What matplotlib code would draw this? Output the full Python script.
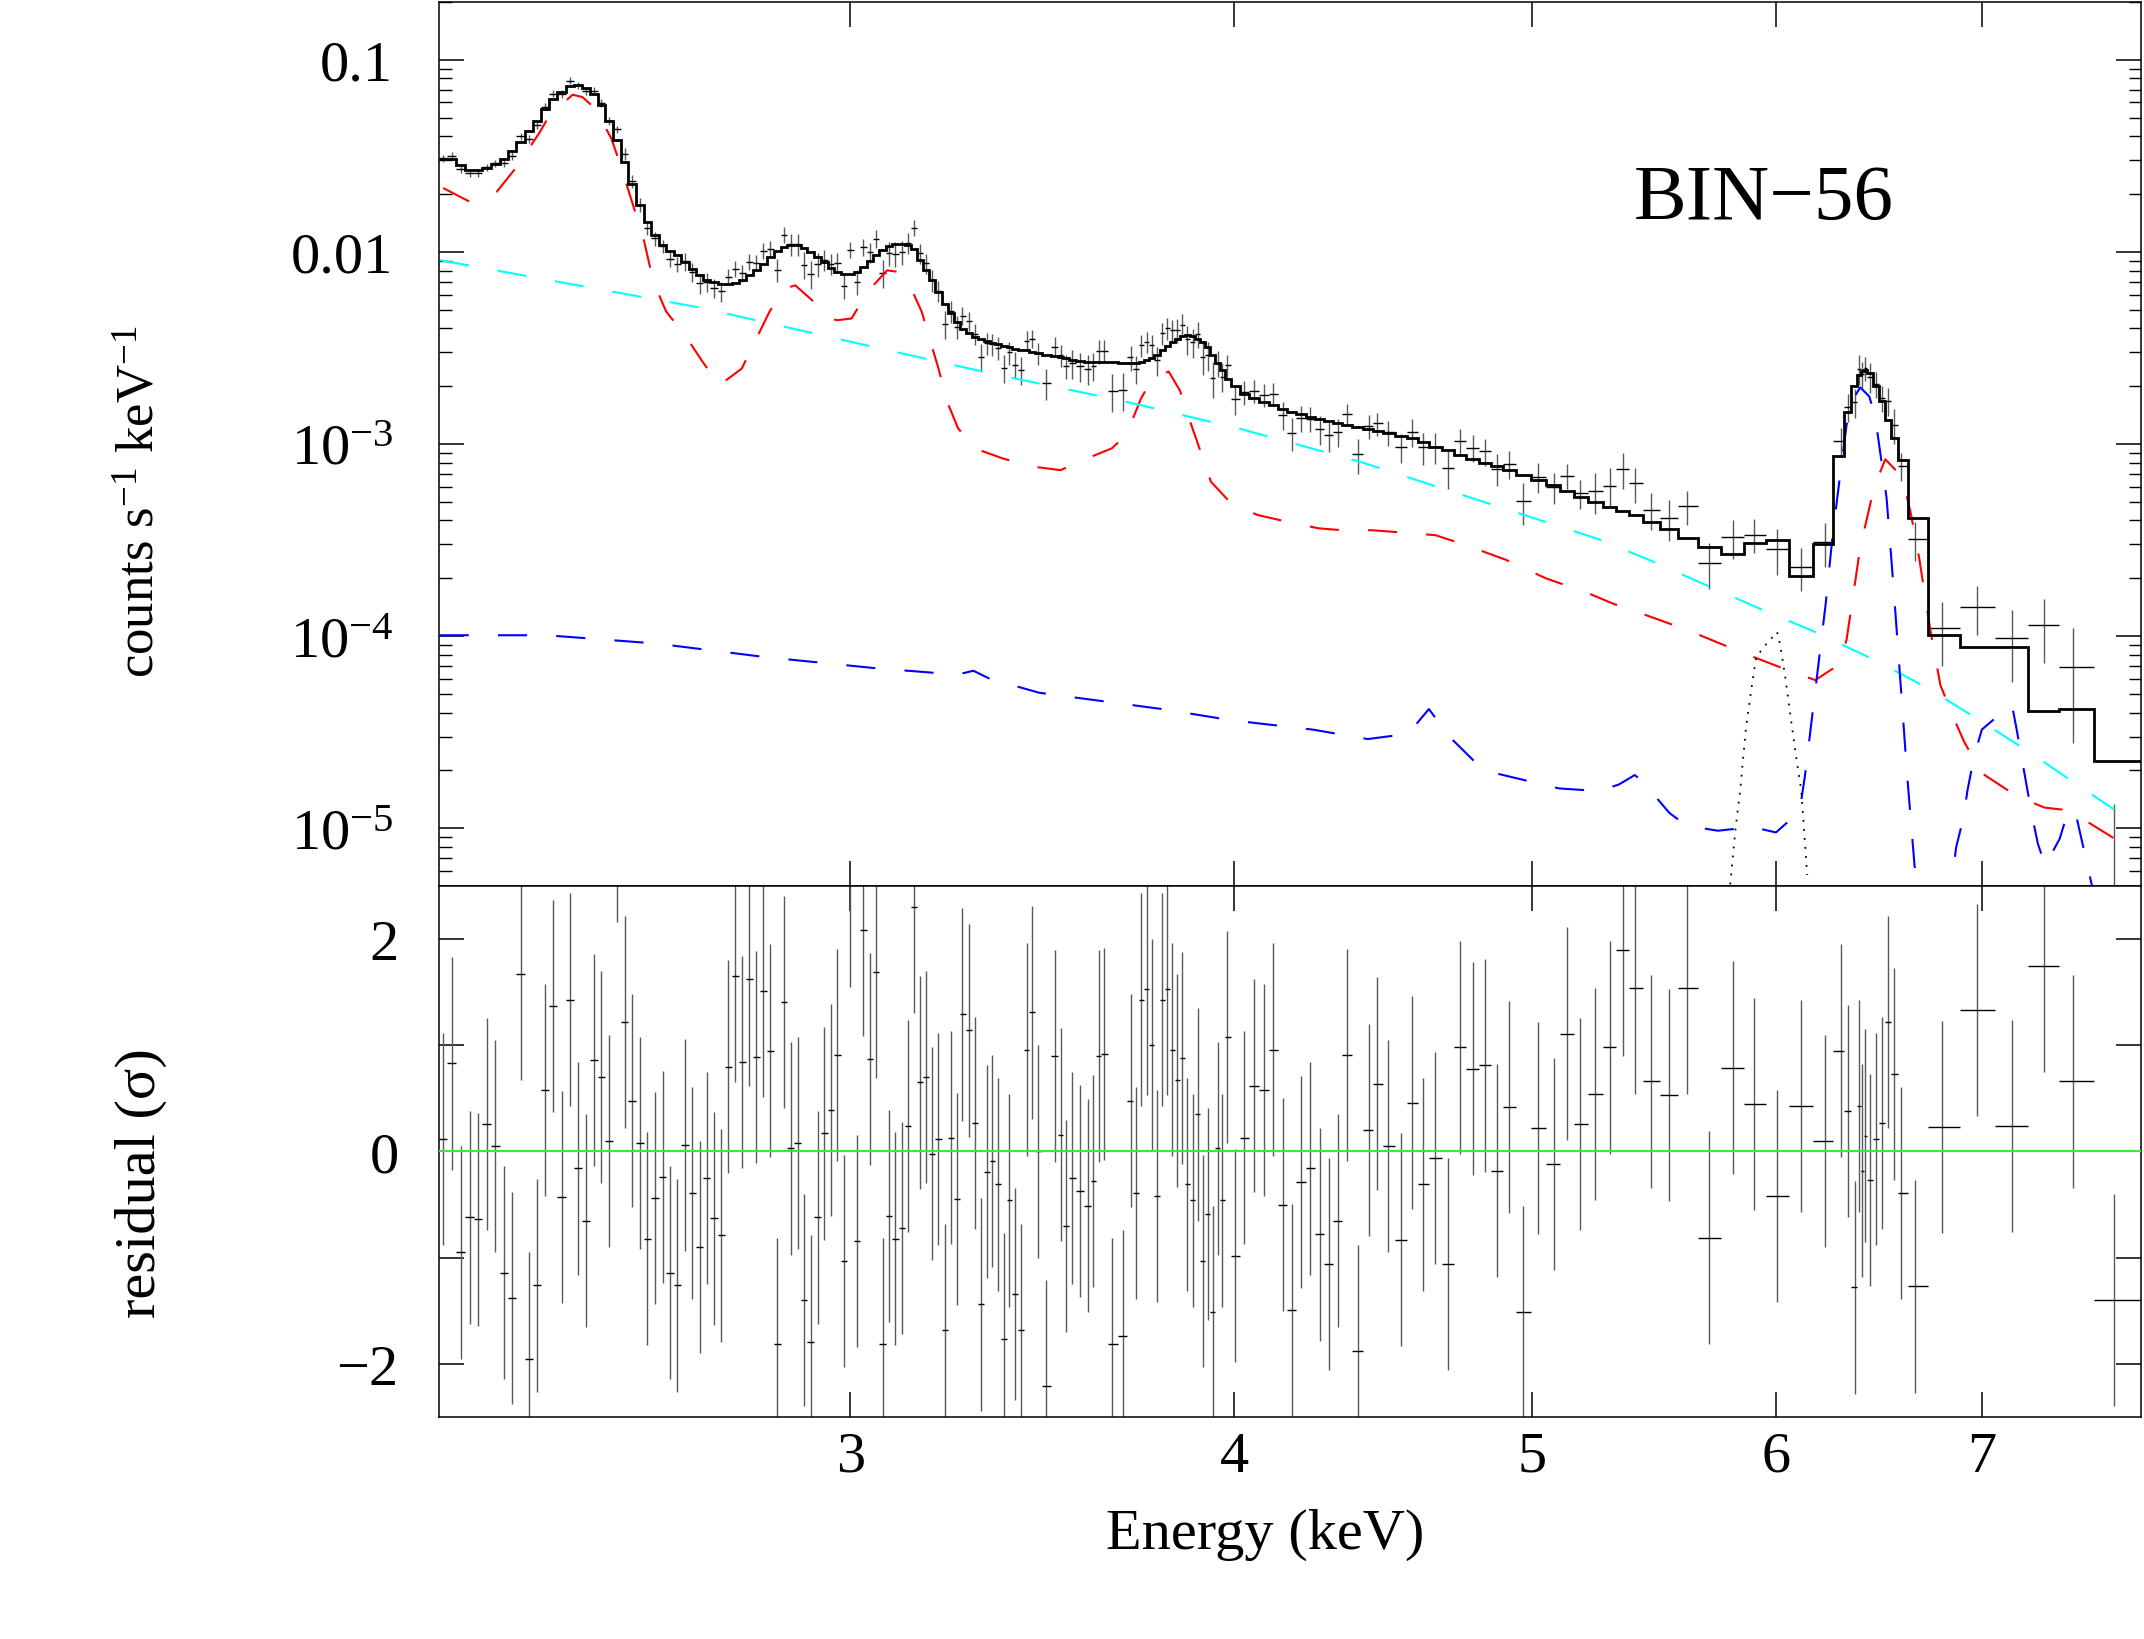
import numpy as np
import matplotlib
matplotlib.use('Agg')
import matplotlib.pyplot as plt
from matplotlib.ticker import FixedLocator, NullLocator, LogLocator, NullFormatter

plt.rcParams['font.family'] = ['Liberation Serif', 'DejaVu Serif']
plt.rcParams['mathtext.fontset'] = 'custom'
plt.rcParams['mathtext.rm'] = 'Liberation Serif'
plt.rcParams['mathtext.it'] = 'Liberation Serif:italic'

# bin centres (keV)
energy = np.array([
    2.212, 2.226, 2.242, 2.256, 2.271, 2.285, 2.300, 2.315, 2.329, 2.344,
    2.359, 2.373, 2.387, 2.402, 2.417, 2.432, 2.446, 2.461, 2.476, 2.490,
    2.504, 2.519, 2.534, 2.548, 2.563, 2.577, 2.592, 2.607, 2.621, 2.636,
    2.651, 2.665, 2.680, 2.695, 2.709, 2.724, 2.738, 2.753, 2.767, 2.781,
    2.796, 2.811, 2.826, 2.840, 2.855, 2.869, 2.884, 2.898, 2.913, 2.928,
    2.942, 2.957, 2.971, 2.986, 3.000, 3.015, 3.029, 3.045, 3.059, 3.074,
    3.088, 3.103, 3.118, 3.132, 3.147, 3.161, 3.176, 3.190, 3.205, 3.220,
    3.234, 3.249, 3.263, 3.278, 3.293, 3.308, 3.323, 3.337, 3.352, 3.366,
    3.380, 3.395, 3.409, 3.424, 3.438, 3.453, 3.474, 3.497, 3.512, 3.526,
    3.541, 3.563, 3.584, 3.599, 3.613, 3.628, 3.650, 3.680, 3.701, 3.716,
    3.730, 3.746, 3.760, 3.775, 3.789, 3.803, 3.818, 3.832, 3.847, 3.861,
    3.877, 3.891, 3.906, 3.921, 3.935, 3.950, 3.964, 3.979, 4.001, 4.030,
    4.059, 4.089, 4.118, 4.147, 4.176, 4.204, 4.234, 4.264, 4.292, 4.322,
    4.352, 4.387, 4.424, 4.452, 4.488, 4.532, 4.570, 4.606, 4.649, 4.694,
    4.737, 4.781, 4.824, 4.869, 4.912, 4.964, 5.022, 5.080, 5.131, 5.182,
    5.241, 5.299, 5.350, 5.400, 5.465, 5.540, 5.613, 5.707, 5.810, 5.904,
    6.006, 6.115, 6.226, 6.298, 6.334, 6.364, 6.386, 6.399, 6.415, 6.436,
    6.467, 6.496, 6.525, 6.553, 6.591, 6.657, 6.795, 6.977, 7.159, 7.334,
    7.495, 7.728])
last_edge = 7.95

# folded model per bin (counts s-1 keV-1)
model = np.array([
    0.0306, 0.0306, 0.0282, 0.0266, 0.0266, 0.0273, 0.0288, 0.0306, 0.0337, 0.0373,
    0.0424, 0.0483, 0.0556, 0.0627, 0.0679, 0.0730, 0.0741, 0.0712, 0.0666, 0.0579,
    0.0478, 0.0381, 0.0294, 0.0225, 0.0175, 0.0143, 0.0122, 0.0109, 0.0101, 0.00961,
    0.00887, 0.00819, 0.00762, 0.00718, 0.00698, 0.00684, 0.00684, 0.00692, 0.00712, 0.00756,
    0.00802, 0.00869, 0.00942, 0.01008, 0.01062, 0.01091, 0.01082, 0.01049, 0.0100, 0.00942,
    0.00887, 0.00826, 0.00787, 0.00771, 0.00771, 0.00787, 0.00835, 0.00894, 0.00961, 0.01019,
    0.0107, 0.01096, 0.01105, 0.01082, 0.0103, 0.00905, 0.00802, 0.00712, 0.00619, 0.00538,
    0.00482, 0.00432, 0.00399, 0.00379, 0.00361, 0.00351, 0.00343, 0.00336, 0.0033, 0.00324,
    0.00319, 0.00314, 0.0031, 0.00307, 0.00302, 0.00298, 0.00292, 0.00288, 0.00283, 0.00279,
    0.00274, 0.0027, 0.00268, 0.00267, 0.00266, 0.00266, 0.00266, 0.00265, 0.00263, 0.00263,
    0.00266, 0.00273, 0.00281, 0.00292, 0.00307, 0.00322, 0.00338, 0.00354, 0.00366, 0.00369,
    0.00366, 0.00354, 0.0034, 0.0032, 0.0029, 0.00263, 0.00242, 0.00219, 0.00201, 0.00183,
    0.00173, 0.00166, 0.0016, 0.00153, 0.00147, 0.00143, 0.00139, 0.00135, 0.00132, 0.00128,
    0.00126, 0.00123, 0.0012, 0.00117, 0.00114, 0.0011, 0.00107, 0.00102, 0.00097, 0.00093,
    0.00088, 0.00084, 0.0008, 0.00077, 0.00073, 0.00069, 0.00065, 0.00061, 0.00057, 0.00053,
    0.000496, 0.000469, 0.000446, 0.000426, 0.000391, 0.00036, 0.000325, 0.000292, 0.000267, 0.000307,
    0.000315, 0.000205, 0.0003, 0.000871, 0.00146, 0.00201, 0.00228, 0.00239, 0.00243, 0.00234,
    0.00201, 0.00167, 0.00133, 0.00107, 0.000821, 0.000414, 0.000101, 8.79e-5, 8.79e-5, 4.09e-5,
    4.18e-5, 2.24e-5])

# residuals (sigma)
resid = np.array([
    0.12, 0.83, -0.95, -0.62, -0.64, 0.26, 0.05, -1.14, -1.38, 1.67,
    -1.95, -1.26, 0.58, 1.37, -0.43, 1.43, -0.16, -0.65, 0.86, 0.70,
    0.10, 3.16, 1.22, 0.48, 0.08, -0.82, -0.44, -0.24, -1.14, -1.26,
    0.06, -0.39, -0.90, -0.25, -0.63, -0.79, 0.80, 1.65, 0.84, 1.62,
    0.89, 1.51, 0.95, -1.81, 1.41, 0.03, 0.08, -1.40, -1.79, -0.62,
    0.17, 0.39, 0.91, -1.03, 2.55, -0.84, 2.09, 0.87, 1.69, -1.81,
    -0.61, -0.82, -0.72, 0.24, 2.30, 0.65, 0.70, -0.02, 0.12, -1.68,
    0.13, -0.45, 1.29, 1.14, 0.27, -1.44, -0.19, -0.09, -0.31, -1.77,
    -0.46, -1.34, -1.68, 0.96, 1.31, 0.00, -2.21, 0.90, 0.16, -0.70,
    -0.25, -0.37, -0.51, -0.28, 0.90, 0.92, -1.81, -1.74, 0.48, -0.39,
    1.43, 1.53, 1.00, -0.42, 1.43, 1.53, 0.96, 0.67, 0.88, -0.31,
    -0.46, 0.35, -1.03, -0.59, -1.51, 0.03, -0.46, 1.08, -0.98, 0.13,
    0.62, 0.58, 0.96, -0.50, -1.49, -0.29, -0.16, -0.78, -1.06, -0.65,
    0.91, -1.88, 0.20, 0.64, 0.05, -0.83, 0.46, -0.31, -0.06, -1.06,
    0.98, 0.78, 0.81, -0.18, 0.42, -1.51, 0.22, -0.12, 1.11, 0.26,
    0.54, 0.98, 1.90, 1.54, 0.66, 0.53, 1.54, -0.81, 0.79, 0.45,
    -0.42, 0.43, 0.10, 0.95, 0.38, -1.28, 0.43, -0.18, 0.15, -0.27,
    0.12, 0.27, 1.22, 0.73, -0.39, -1.27, 0.23, 1.33, 0.24, 1.75,
    0.66, -1.40])

# data error relative to model
rel_err = np.array([
    0.045, 0.045, 0.045, 0.045, 0.045, 0.045, 0.045, 0.045, 0.045, 0.045,
    0.045, 0.045, 0.045, 0.045, 0.045, 0.045, 0.045, 0.045, 0.045, 0.045,
    0.045, 0.045, 0.08, 0.08, 0.08, 0.08, 0.08, 0.08, 0.08, 0.08,
    0.11, 0.11, 0.11, 0.11, 0.11, 0.11, 0.11, 0.11, 0.11, 0.11,
    0.11, 0.11, 0.11, 0.11, 0.11, 0.13, 0.13, 0.13, 0.13, 0.13,
    0.13, 0.13, 0.13, 0.13, 0.13, 0.13, 0.13, 0.13, 0.13, 0.13,
    0.13, 0.13, 0.13, 0.13, 0.13, 0.13, 0.13, 0.13, 0.13, 0.13,
    0.13, 0.13, 0.13, 0.13, 0.13, 0.13, 0.13, 0.13, 0.13, 0.13,
    0.13, 0.13, 0.13, 0.13, 0.13, 0.13, 0.13, 0.13, 0.13, 0.13,
    0.16, 0.16, 0.16, 0.16, 0.16, 0.16, 0.16, 0.16, 0.16, 0.16,
    0.16, 0.16, 0.16, 0.16, 0.16, 0.16, 0.16, 0.16, 0.16, 0.16,
    0.16, 0.16, 0.16, 0.16, 0.16, 0.16, 0.16, 0.16, 0.15, 0.15,
    0.15, 0.15, 0.15, 0.15, 0.15, 0.15, 0.15, 0.15, 0.15, 0.15,
    0.15, 0.15, 0.15, 0.15, 0.15, 0.15, 0.18, 0.18, 0.18, 0.18,
    0.18, 0.18, 0.18, 0.18, 0.18, 0.18, 0.18, 0.18, 0.18, 0.18,
    0.27, 0.30, 0.35, 0.30, 0.25, 0.27, 0.30, 0.22, 0.28, 0.22,
    0.24, 0.28, 0.26, 0.20, 0.18, 0.14, 0.19, 0.15, 0.15, 0.17,
    0.16, 0.16, 0.21, 0.24, 0.16, 0.18, 0.40, 0.46, 0.45, 1.03,
    0.98, 1.00])

# model components
red_e = [2.212, 2.257, 2.302, 2.337, 2.378, 2.395, 2.437, 2.455, 2.479, 2.509,
         2.525, 2.544, 2.570, 2.589, 2.614, 2.651, 2.686, 2.720, 2.766, 2.793,
         2.824, 2.856, 2.879, 2.924, 2.944, 2.970, 3.003, 3.039, 3.084, 3.110,
         3.135, 3.165, 3.186, 3.205, 3.226, 3.252, 3.293, 3.363, 3.440, 3.512,
         3.578, 3.649, 3.679, 3.704, 3.730, 3.757, 3.784, 3.808, 3.840, 3.870,
         3.900, 3.930, 3.990, 4.070, 4.160, 4.260, 4.370, 4.430, 4.550, 4.650,
         4.750, 4.900, 5.050, 5.200, 5.314, 5.433, 5.611, 5.851, 6.036, 6.179,
         6.293, 6.326, 6.391, 6.459, 6.512, 6.594, 6.637, 6.680, 6.733, 6.786,
         6.857, 6.910, 7.001, 7.185, 7.336, 7.432, 7.568, 7.727]
red_v = [0.0215, 0.0182, 0.0205, 0.0277, 0.0421, 0.0513, 0.0658, 0.0640, 0.0556, 0.0388,
         0.0288, 0.0197, 0.0117, 0.00698, 0.00488, 0.00369, 0.00268, 0.00202, 0.00247, 0.0034,
         0.00488, 0.00644, 0.0067, 0.00538, 0.00459, 0.00441, 0.0045, 0.00619, 0.00802, 0.00787,
         0.00684, 0.00488, 0.0034, 0.00247, 0.00166, 0.00121, 9.49e-4, 8.41e-4, 7.62e-4, 7.31e-4,
         8.35e-4, 9.49e-4, 1.07e-3, 1.31e-3, 1.73e-3, 2.11e-3, 2.30e-3, 2.38e-3, 1.90e-3, 1.30e-3,
         9.12e-4, 6.37e-4, 4.91e-4, 4.27e-4, 3.94e-4, 3.64e-4, 3.52e-4, 3.56e-4, 3.45e-4, 3.35e-4,
         3.0e-4, 2.5e-4, 2.0e-4, 1.7e-4, 1.47e-4, 1.30e-4, 1.08e-4, 8.2e-5, 6.76e-5, 5.9e-5,
         7.14e-5, 9.6e-5, 2.9e-4, 6.04e-4, 8.32e-4, 6.76e-4, 4.38e-4, 2.52e-4, 1.11e-4, 5.56e-5,
         3.68e-5, 2.79e-5, 1.93e-5, 1.47e-5, 1.28e-5, 1.25e-5, 1.09e-5, 8.87e-6]

cyan_e = [2.207, 2.681, 3.137, 3.350, 3.671, 4.017, 4.394, 5.259, 5.450, 5.927,
          6.179, 6.450, 6.715, 6.982, 7.259, 7.540, 7.730]
cyan_v = [0.00905, 0.00513, 0.0029, 0.00229, 0.00169, 0.0012, 8.09e-4, 3.18e-4, 2.51e-4, 1.39e-4,
          1.05e-4, 7.6e-5, 5.41e-5, 3.68e-5, 2.47e-5, 1.63e-5, 1.25e-5]

blue_e = [2.206, 2.390, 2.594, 2.816, 3.056, 3.250, 3.290, 3.330, 3.456, 3.789,
          3.989, 4.241, 4.420, 4.556, 4.627, 4.698, 4.820, 5.101, 5.258, 5.335,
          5.398, 5.430, 5.540, 5.611, 5.745, 5.813, 5.870, 6.000, 6.107, 6.131,
          6.163, 6.195, 6.227, 6.260, 6.293, 6.326, 6.359, 6.391, 6.434, 6.459,
          6.476, 6.518, 6.553, 6.586, 6.620, 6.656, 6.750, 6.848, 6.866, 6.905,
          6.925, 6.960, 7.000, 7.130, 7.160, 7.185, 7.240, 7.270, 7.300, 7.340,
          7.420, 7.470, 7.510, 7.600, 7.630]
blue_v = [1.01e-4, 1.01e-4, 9.15e-5, 7.77e-5, 6.81e-5, 6.3e-5, 6.6e-5, 6.0e-5, 5.07e-5, 4.17e-5,
          3.65e-5, 3.26e-5, 2.91e-5, 3.1e-5, 4.17e-5, 3.0e-5, 2.0e-5, 1.61e-5, 1.56e-5, 1.69e-5,
          1.89e-5, 1.75e-5, 1.2e-5, 1.03e-5, 9.7e-6, 9.9e-6, 1.03e-5, 9.5e-6, 1.22e-5, 1.85e-5,
          3.67e-5, 7.3e-5, 1.45e-4, 3.33e-4, 6.58e-4, 1.26e-3, 1.73e-3, 1.97e-3, 1.77e-3, 1.44e-3,
          1.1e-3, 5.26e-4, 1.75e-4, 5.82e-5, 1.85e-5, 6.4e-6, 2.0e-6, 5.5e-6, 7.9e-6, 1.14e-5,
          1.57e-5, 2.37e-5, 3.26e-5, 4.19e-5, 4.38e-5, 3.26e-5, 1.64e-5, 1.14e-5, 8.3e-6, 6.4e-6,
          8.8e-6, 1.25e-5, 1.19e-5, 5.1e-6, 4.4e-6]

gauss_e = [5.798, 5.821, 5.843, 5.866, 5.889, 5.912, 5.958, 6.005, 6.020, 6.044,
           6.067, 6.091, 6.115, 6.131, 6.142]
gauss_v = [5.1e-6, 9.9e-6, 1.64e-5, 3.26e-5, 5.15e-5, 7.78e-5, 9.13e-5, 1.05e-4, 8.9e-5, 5.9e-5,
           3.74e-5, 2.37e-5, 1.57e-5, 8.6e-6, 5.7e-6]

# bin edges from the centres
mid = np.sqrt(energy[:-1] * energy[1:])
edges = np.concatenate([[energy[0] ** 2 / mid[0]], mid, [last_edge]])
sigma = rel_err * model
rate = model + resid * sigma

fig = plt.figure(figsize=(21.44, 16.40), dpi=100)
ax1 = fig.add_axes([0.20476, 0.45915, 0.79384, 0.53902])
ax2 = fig.add_axes([0.20476, 0.13537, 0.79384, 0.32378])

xlim = (2.205, 7.886)
dash = (0, (14, 14))

# --- upper panel
ax1.vlines(energy, np.clip(rate - sigma, 1e-9, None), rate + sigma, color='0.35', lw=1.0, zorder=2)
ok = rate > 0
ax1.hlines(rate[ok], edges[:-1][ok], edges[1:][ok], color='k', lw=1.0, zorder=2)
ax1.stairs(model, edges, baseline=None, color='k', lw=2.0, zorder=4)
ax1.plot(red_e, red_v, color='red', lw=1.5, linestyle=dash, zorder=3)
ax1.plot(cyan_e, cyan_v, color='cyan', lw=1.5, linestyle=dash, zorder=3)
ax1.plot(blue_e, blue_v, color='blue', lw=1.5, linestyle=dash, zorder=3)
ax1.plot(gauss_e, gauss_v, color='k', lw=1.3, linestyle=(0, (1, 4)), zorder=3)

ax1.set_xscale('log')
ax1.set_yscale('log')
ax1.set_xlim(xlim)
ax1.set_ylim(5e-6, 0.2)
ax1.xaxis.set_major_locator(FixedLocator([3, 4, 5, 6, 7]))
ax1.xaxis.set_minor_locator(NullLocator())
ax1.yaxis.set_major_locator(FixedLocator([1e-5, 1e-4, 1e-3, 1e-2, 1e-1]))
ax1.yaxis.set_minor_locator(LogLocator(base=10, subs=np.arange(2, 10)))
ax1.yaxis.set_minor_formatter(NullFormatter())
ax1.set_yticklabels(['$10^{-5}$', '$10^{-4}$', '$10^{-3}$', '0.01', '0.1'])
ax1.tick_params(axis='both', which='both', direction='in', top=True, right=True,
                labelbottom=False, labelsize=42)
ax1.tick_params(which='major', length=18, width=1.1)
ax1.tick_params(which='minor', length=9, width=1.0)
ax1.tick_params(axis='y', pad=33)
ax1.text(0.7785, 0.7557, 'BIN\u221256', transform=ax1.transAxes, fontsize=57,
         ha='center', va='baseline')

# --- residual panel
ax2.vlines(energy, resid - 1, resid + 1, color='0.35', lw=1.0, zorder=2)
ax2.hlines(resid, edges[:-1], edges[1:], color='k', lw=1.0, zorder=2)
ax2.axhline(0, color='#3ce63c', lw=1.6, zorder=4)
ax2.set_xscale('log')
ax2.set_xlim(xlim)
ax2.set_ylim(-2.5, 2.5)
ax2.xaxis.set_major_locator(FixedLocator([3, 4, 5, 6, 7]))
ax2.xaxis.set_minor_locator(NullLocator())
ax2.set_xticklabels(['3', '4', '5', '6', '7'])
ax2.yaxis.set_major_locator(FixedLocator([-2, -1, 0, 1, 2]))
ax2.set_yticklabels(['\u22122', '', '0', '', '2'])
ax2.tick_params(axis='both', which='both', direction='in', top=True, right=True, labelsize=42)
ax2.tick_params(which='major', length=18, width=1.1)
ax2.tick_params(axis='y', pad=29)
ax2.tick_params(axis='x', pad=10)

for ax in (ax1, ax2):
    for sp in ax.spines.values():
        sp.set_linewidth(1.1)

fig.text(141 / 2144, 1 - 502 / 1640, 'counts s$^{-1}$ keV$^{-1}$', rotation=90,
         ha='center', va='center', fontsize=38)
fig.text(141 / 2144, 1 - 1183 / 1640, 'residual (\u03c3)', rotation=90,
         ha='center', va='center', fontsize=42)
fig.text(1265 / 2144, 1 - 1535 / 1640, 'Energy (keV)', ha='center', va='center', fontsize=42)

fig.savefig('out.png', dpi=100)
